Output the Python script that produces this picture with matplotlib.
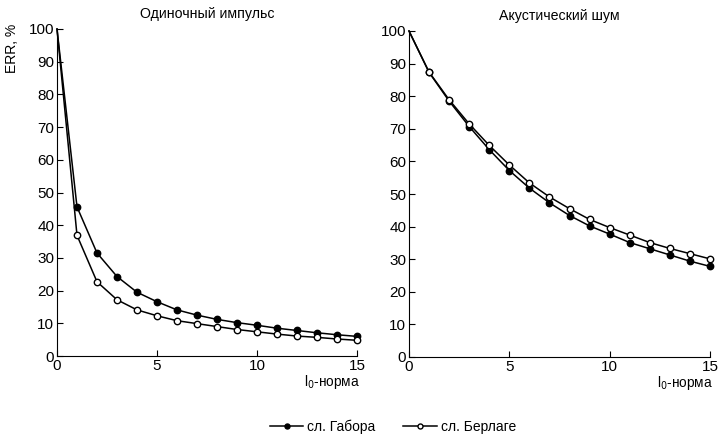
import matplotlib
matplotlib.use("Agg")
import matplotlib.pyplot as plt
from matplotlib.lines import Line2D

plt.rcParams['font.family'] = ['Liberation Sans', 'DejaVu Sans']

x = list(range(16))
imp_gabor = [100, 45.6, 31.5, 24.3, 19.5, 16.6, 14.1, 12.5, 11.2, 10.2, 9.4, 8.5, 7.8, 7.1, 6.5, 6.0]
imp_berlage = [100, 36.9, 22.7, 17.2, 14.1, 12.3, 10.8, 9.9, 9.0, 8.1, 7.4, 6.7, 6.1, 5.7, 5.2, 4.8]
noise_gabor = [100, 87.3, 78.5, 70.7, 63.6, 57.2, 51.8, 47.3, 43.4, 40.2, 37.7, 35.1, 33.2, 31.3, 29.4, 27.8]
noise_berlage = [100, 87.4, 78.9, 71.5, 64.9, 58.9, 53.4, 49.1, 45.5, 42.2, 39.7, 37.4, 35.1, 33.3, 31.7, 30.1]

titles = ['Одиночный импульс', 'Акустический шум']
legend_labels = ['сл. Габора', 'сл. Берлаге']
xticks = [0, 5, 10, 15]
yticks = [0, 10, 20, 30, 40, 50, 60, 70, 80, 90, 100]

W, H = 719, 437
fig = plt.figure(figsize=(W / 100, H / 100), dpi=100)
ax1 = fig.add_axes([57 / W, 1 - 356 / H, 300 / W, 327 / H])
ax2 = fig.add_axes([409 / W, 1 - 357 / H, 301 / W, 326 / H])

for ax, g, b, t in [(ax1, imp_gabor, imp_berlage, titles[0]),
                    (ax2, noise_gabor, noise_berlage, titles[1])]:
    ax.plot(x, g, color='black', lw=1.1, marker='o',
            markersize=4.6, markerfacecolor='black', markeredgecolor='black',
            markevery=list(range(1, 16)), clip_on=False, zorder=3)
    ax.plot(x, b, color='black', lw=1.1, marker='o',
            markersize=4.6, markerfacecolor='white', markeredgecolor='black',
            markeredgewidth=1.0, markevery=list(range(1, 16)), clip_on=False, zorder=4)
    ax.set_xlim(0, 15)
    ax.set_ylim(0, 100)
    ax.set_xticks(xticks)
    ax.set_yticks(yticks)
    ax.spines['top'].set_visible(False)
    ax.spines['right'].set_visible(False)
    ax.tick_params(direction='in', length=4, labelsize=11, pad=2)
    ax.set_title(t, fontsize=10.2, pad=8)
    ax.text(1.01, -0.08, 'l$_0$-норма', transform=ax.transAxes,
            ha='right', va='center', fontsize=9.8)

fig.text(12 / W, 1 - 48 / H, 'ERR, %', rotation=90, ha='center', va='center', fontsize=10)

handles = [
    Line2D([], [], color='black', lw=1.1, marker='o', markersize=3.6,
           markerfacecolor='black', markeredgecolor='black'),
    Line2D([], [], color='black', lw=1.1, marker='o', markersize=3.6,
           markerfacecolor='white', markeredgecolor='black'),
]
fig.legend(handles, legend_labels, loc='center', ncol=2, frameon=False,
           bbox_to_anchor=(393 / W, 1 - 427 / H), fontsize=10,
           handlelength=2.4, handletextpad=0.3, columnspacing=2.0)

fig.savefig('out.png', dpi=100)
